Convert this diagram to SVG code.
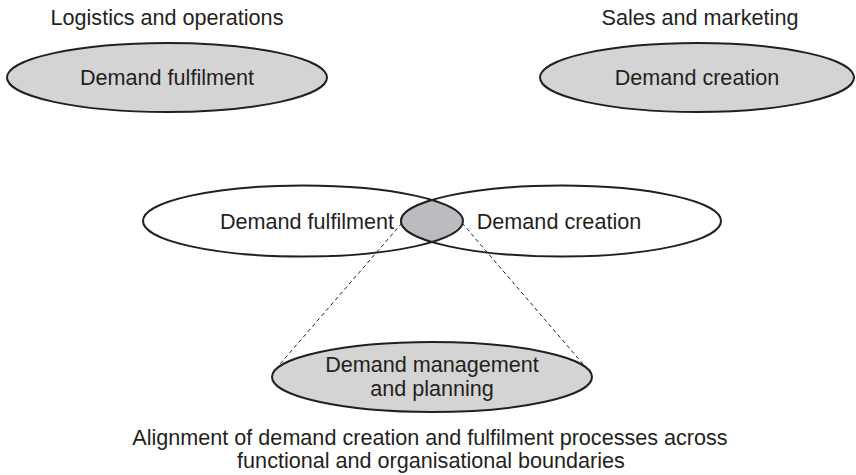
<svg xmlns="http://www.w3.org/2000/svg" width="856" height="475" viewBox="0 0 856 475">
<style>
.t{font-family:"Liberation Sans",Arial,sans-serif;font-size:21.6px;fill:#231f20;text-anchor:middle}
.g{fill:#d4d4d4;stroke:#231f20;stroke-width:2}
.w{fill:#ffffff;stroke:#231f20;stroke-width:2}
.lens{fill:#bcbcc0;stroke:#231f20;stroke-width:2}
.d{stroke:#231f20;stroke-width:1;stroke-dasharray:4 3;fill:none}
</style>
<rect width="856" height="475" fill="#ffffff"/>
<g id="logistics">
<text class="t" x="167" y="25">Logistics and operations</text>
<ellipse class="g" cx="167" cy="77.5" rx="160" ry="34.5"/>
<text class="t" x="167" y="85">Demand fulfilment</text>
</g>
<g id="sales">
<text class="t" x="700" y="25">Sales and marketing</text>
<ellipse class="g" cx="697" cy="77.5" rx="157" ry="34.5"/>
<text class="t" x="697" y="85">Demand creation</text>
</g>
<g id="fulfilment">
<ellipse class="w" cx="303" cy="221" rx="160" ry="35.5"/>
</g>
<g id="creation">
<ellipse class="w" cx="561" cy="221" rx="160" ry="35.5"/>
</g>
<g id="overlap">
<path class="lens" d="M432 200 A160 35.5 0 0 1 432 242 A160 35.5 0 0 1 432 200 Z"/>
</g>
<text class="t" x="307" y="228.5">Demand fulfilment</text>
<text class="t" x="559" y="228.5">Demand creation</text>
<g id="connectors">
<line class="d" x1="402" y1="223" x2="280" y2="364"/>
<line class="d" x1="462" y1="223" x2="583" y2="364"/>
</g>
<g id="management">
<ellipse class="g" cx="432" cy="377" rx="160" ry="35"/>
<text class="t" x="432" y="372">Demand management</text>
<text class="t" x="432" y="396">and planning</text>
</g>
<g id="caption">
<text class="t" x="430" y="445">Alignment of demand creation and fulfilment processes across</text>
<text class="t" x="431" y="468">functional and organisational boundaries</text>
</g>
</svg>
